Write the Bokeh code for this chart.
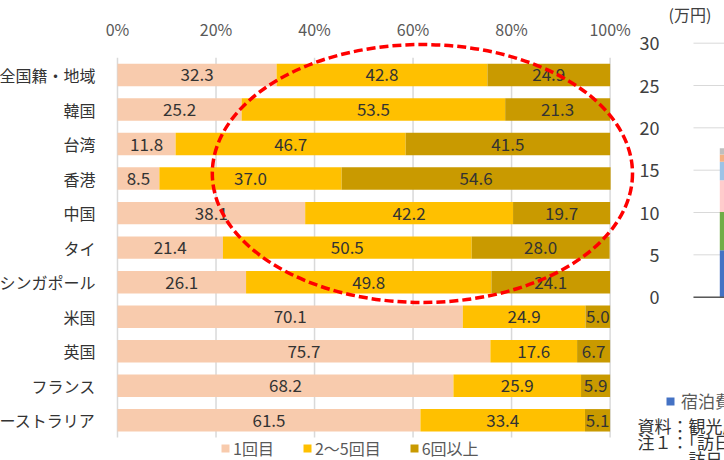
import numpy as np
from bokeh.plotting import figure
from bokeh.models import (ColumnDataSource, Range1d, FixedTicker, Legend, LegendItem,
                          Label, PrintfTickFormatter)
from bokeh.layouts import row
from bokeh.embed import file_html
from bokeh.resources import INLINE
from bokeh.core.properties import value

# ---------------- data ----------------
categories = ["全国籍・地域", "韓国", "台湾", "香港", "中国", "タイ", "シンガポール",
              "米国", "英国", "フランス", "オーストラリア"]
first_visit = [32.3, 25.2, 11.8, 8.5, 38.1, 21.4, 26.1, 70.1, 75.7, 68.2, 61.5]
visits_2_5 = [42.8, 53.5, 46.7, 37.0, 42.2, 50.5, 49.8, 24.9, 17.6, 25.9, 33.4]
visits_6_plus = [24.9, 21.3, 41.5, 54.6, 19.7, 28.0, 24.1, 5.0, 6.7, 5.9, 5.1]
series_names = ["1回目", "2～5回目", "6回以上"]
x_tick_values = [0, 20, 40, 60, 80, 100]

spend_legend = ["宿泊費"]
spend_values = [5.55, 4.5, 3.75, 2.2, 0.85, 0.75]
y2_tick_values = [0, 5, 10, 15, 20, 25, 30]
unit_text = "(万円)"
note_lines = ["資料：観光庁", "注１：「訪日", "訪日"]

# ---------------- styles ----------------
FONT = "Noto Sans CJK JP"
bar_colors = ["#F8CBAD", "#FFC000", "#C99A00"]
spend_colors = ["#4472C4", "#70AD47", "#FFCCCC", "#9DC3E6", "#F4B183", "#BFBFBF"]
grid_color = "#D9D9D9"

n = len(categories)
idx = list(range(n))


def no_align(p):
    try:
        p.frame_align = False
    except Exception:
        pass


# ---------------- main chart ----------------
p1 = figure(width=659, height=460,
            x_range=Range1d(-2.84, 105.36), y_range=Range1d(11.164, -2.157),
            x_axis_location="above", output_backend="svg", toolbar_location=None,
            min_border_left=126, min_border_right=0, min_border_top=0, min_border_bottom=0)
no_align(p1)
p1.outline_line_color = None
p1.xgrid.visible = False
p1.ygrid.visible = False

# vertical grid lines spanning only the bar area
grid_src = ColumnDataSource(dict(x=x_tick_values,
                                 y0=[-0.5] * len(x_tick_values),
                                 y1=[n - 0.5] * len(x_tick_values)))
p1.segment(x0="x", y0="y0", x1="x", y1="y1", source=grid_src,
           line_color=grid_color, line_width=1.5)

src = ColumnDataSource(dict(y=idx, s1=first_visit, s2=visits_2_5, s3=visits_6_plus))
bars = p1.hbar_stack(["s1", "s2", "s3"], y="y", height=0.65, source=src,
                     fill_color=bar_colors, line_color=None)

# data labels centred in each segment
a = np.array(first_visit); b = np.array(visits_2_5); c = np.array(visits_6_plus)
lx, ly, lt = [], [], []
for vals, left in ((a, np.zeros(n)), (b, a), (c, a + b)):
    lx += list(left + vals / 2)
    ly += idx
    lt += [f"{v:.1f}" for v in vals]
lbl_src = ColumnDataSource(dict(x=lx, y=ly, t=lt))
p1.text(x="x", y="y", text="t", source=lbl_src, text_font=value(FONT),
        text_font_size="17px", text_align="center", text_baseline="middle",
        text_color="#333333")

# highlight ellipse
p1.ellipse(x=[61.9], y=[2.853], width=[85.3], height=[7.47], fill_color=None,
           line_color="#FF0000", line_width=3.5, line_dash="9 4")

xa = p1.xaxis[0]
xa.fixed_location = -0.68
xa.ticker = FixedTicker(ticks=x_tick_values)
xa.formatter = PrintfTickFormatter(format="%d%%")
xa.axis_line_color = None
xa.major_tick_line_color = None
xa.minor_tick_line_color = None
xa.major_label_standoff = 5
xa.major_label_text_font = FONT
xa.major_label_text_font_size = "16px"
xa.major_label_text_color = "#595959"

ya = p1.yaxis[0]
ya.ticker = FixedTicker(ticks=idx)
ya.major_label_overrides = {i: cat for i, cat in enumerate(categories)}
ya.axis_line_color = None
ya.major_tick_line_color = None
ya.minor_tick_line_color = None
ya.major_label_standoff = 2
ya.major_label_text_font = FONT
ya.major_label_text_font_size = "16px"
ya.major_label_text_color = "#333333"

legend1 = Legend(items=[LegendItem(label=nm, renderers=[r]) for nm, r in zip(series_names, bars)],
                 orientation="horizontal", location=(117, 0),
                 border_line_color=None, background_fill_alpha=0, padding=0, margin=0,
                 spacing=28, glyph_width=10, glyph_height=10, label_standoff=3,
                 label_text_font=FONT, label_text_font_size="16px",
                 label_text_color="#595959")
p1.add_layout(legend1)

# ---------------- right (cropped) chart ----------------
AX2 = 0.074      # x position of the right chart's value axis
p2 = figure(width=88, height=460, x_range=Range1d(-1.066, 0.694),
            y_range=Range1d(-19.29, 35.04),
            output_backend="svg", toolbar_location=None,
            min_border_left=0, min_border_right=0, min_border_top=0, min_border_bottom=0)
no_align(p2)
p2.outline_line_color = None
p2.xaxis.visible = False
p2.xgrid.visible = False
p2.ygrid.visible = False

g2 = ColumnDataSource(dict(y=y2_tick_values, x0=[AX2] * len(y2_tick_values),
                           x1=[2.0] * len(y2_tick_values)))
p2.segment(x0="x0", y0="y", x1="x1", y1="y", source=g2, line_color=grid_color, line_width=1)

src2 = ColumnDataSource(dict(x=[1.0], **{f"e{i}": [v] for i, v in enumerate(spend_values)}))
bars2 = p2.vbar_stack([f"e{i}" for i in range(len(spend_values))], x="x", width=0.8,
                      source=src2, fill_color=spend_colors, line_color=None)
p2.segment(x0=[AX2], y0=[0], x1=[2.0], y1=[0], line_color="#595959", line_width=1.5)

ya2 = p2.yaxis[0]
ya2.fixed_location = AX2
ya2.ticker = FixedTicker(ticks=y2_tick_values)
ya2.axis_line_color = None
ya2.major_tick_line_color = None
ya2.minor_tick_line_color = None
ya2.major_label_standoff = 28
ya2.major_label_text_font = FONT
ya2.major_label_text_font_size = "18px"
ya2.major_label_text_color = "#404040"

p2.add_layout(Label(x=-0.426, y=33.5, text=unit_text, text_font=FONT, text_font_size="16px",
                    text_color="#404040", text_baseline="middle", text_align="left"))

legend2 = Legend(items=[LegendItem(label=spend_legend[0], renderers=[bars2[0]])],
                 orientation="horizontal", location=(29, 47),
                 border_line_color=None, background_fill_alpha=0, padding=0, margin=0,
                 glyph_width=10, glyph_height=10, label_standoff=6,
                 label_text_font=FONT, label_text_font_size="17px",
                 label_text_color="#595959")
p2.add_layout(legend2)

note_x = [-1.046, -1.046, -0.026]
note_y = [-15.1, -17.0, -19.1]
for tx, nx, ny in zip(note_lines, note_x, note_y):
    p2.add_layout(Label(x=nx, y=ny, text=tx, text_font=FONT, text_font_size="17px",
                        text_color="#333333", text_baseline="middle", text_align="left"))

layout = row(p1, p2)
layout.styles = {"position": "absolute", "left": "-23px", "top": "0px"}

open("out.html", "w").write(file_html(layout, INLINE))
